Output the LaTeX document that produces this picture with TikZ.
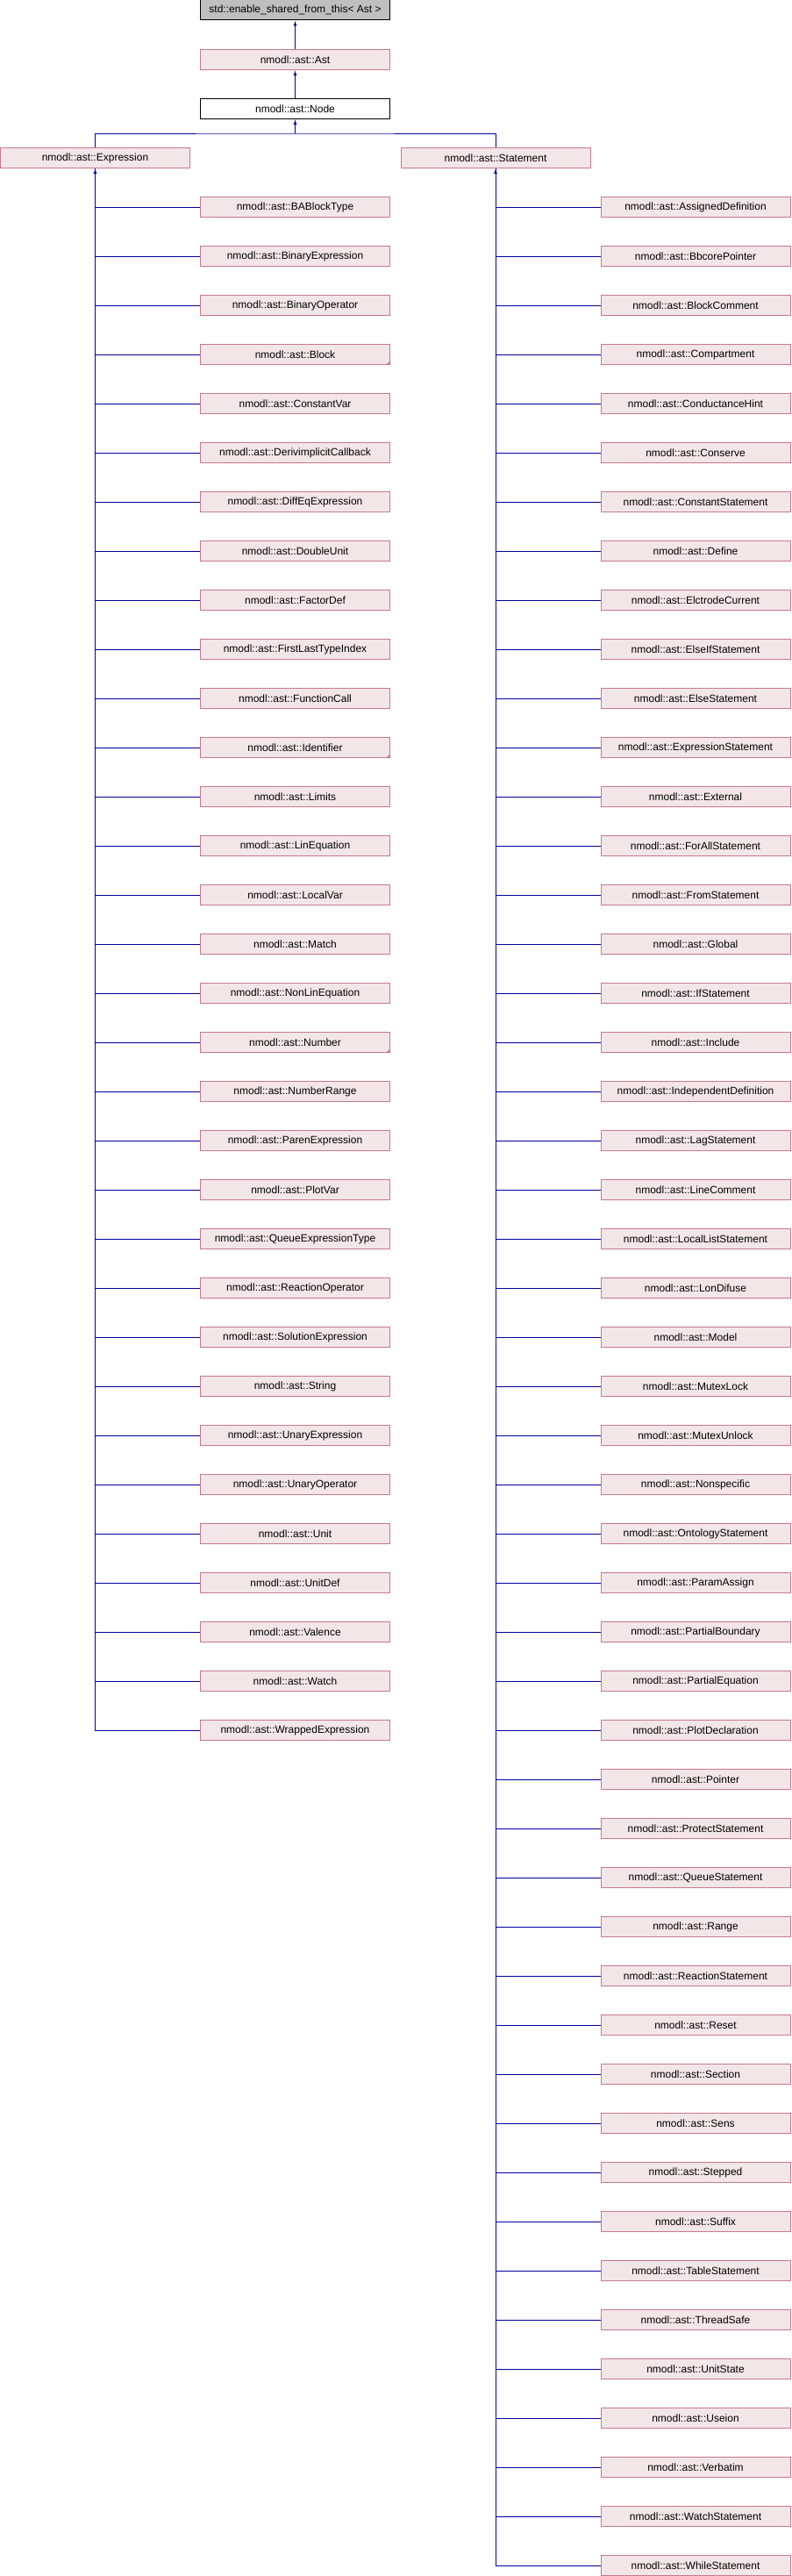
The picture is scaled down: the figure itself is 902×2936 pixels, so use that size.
\documentclass[tikz,border=0pt]{standalone}
\usepackage{fontspec}
\setmainfont{Liberation Sans}
\usepackage{tikz}
\usetikzlibrary{arrows.meta}
\usetikzlibrary{positioning}
\definecolor{boxfill}{RGB}{243, 230, 233}
\definecolor{boxborder}{RGB}{200, 120, 140}
\definecolor{basegray}{RGB}{191, 191, 191}
\definecolor{linkblue}{RGB}{0, 0, 164}

\tikzset{
    classbox/.style={draw=boxborder, fill=boxfill, line width=1pt, inner sep=0pt,
                     minimum width=216pt, minimum height=23pt, font=\fontsize{12}{14}\selectfont},
    basebox/.style={classbox, draw=black, fill=basegray},
    plainbox/.style={classbox, draw=black, fill=white},
    link/.style={draw=linkblue, line width=1pt},
    uptip/.style={-{Latex[length=6pt,width=4pt]}},
}

\begin{document}
\begin{tikzpicture}[x=1pt, y=-1pt]
    \useasboundingbox (0,0) rectangle (902,2936);

    \node[basebox]  (Shared)     at (336.5,  11.5) {std::enable\_shared\_from\_this< Ast >};
    \node[classbox] (Ast)        at (336.5,  68.0) {nmodl::ast::Ast};
    \node[plainbox] (Node)       at (336.5, 124.0) {nmodl::ast::Node};
    \node[classbox] (Expression) at (108.5, 180.0) {nmodl::ast::Expression};
    \node[classbox] (Statement)  at (565.0, 180.0) {nmodl::ast::Statement};
    \coordinate     (split)      at (336.5, 152.0);

    \draw[link, uptip] (Ast.north)  -- (Shared.south);
    \draw[link, uptip] (Node.north) -- (Ast.south);
    \draw[link, uptip] (split)      -- (Node.south);
    \draw[link] (Expression.north) |- (split) -| (Statement.north);

    \node[classbox] (BABlockType)           at (336.5,  236) {nmodl::ast::BABlockType};
    \node[classbox] (BinaryExpression)      at (336.5,  292) {nmodl::ast::BinaryExpression};
    \node[classbox] (BinaryOperator)        at (336.5,  348) {nmodl::ast::BinaryOperator};
    \node[classbox] (Block)                 at (336.5,  404) {nmodl::ast::Block};
    \node[classbox] (ConstantVar)           at (336.5,  460) {nmodl::ast::ConstantVar};
    \node[classbox] (DerivimplicitCallback) at (336.5,  516) {nmodl::ast::DerivimplicitCallback};
    \node[classbox] (DiffEqExpression)      at (336.5,  572) {nmodl::ast::DiffEqExpression};
    \node[classbox] (DoubleUnit)            at (336.5,  628) {nmodl::ast::DoubleUnit};
    \node[classbox] (FactorDef)             at (336.5,  684) {nmodl::ast::FactorDef};
    \node[classbox] (FirstLastTypeIndex)    at (336.5,  740) {nmodl::ast::FirstLastTypeIndex};
    \node[classbox] (FunctionCall)          at (336.5,  796) {nmodl::ast::FunctionCall};
    \node[classbox] (Identifier)            at (336.5,  852) {nmodl::ast::Identifier};
    \node[classbox] (Limits)                at (336.5,  908) {nmodl::ast::Limits};
    \node[classbox] (LinEquation)           at (336.5,  964) {nmodl::ast::LinEquation};
    \node[classbox] (LocalVar)              at (336.5, 1020) {nmodl::ast::LocalVar};
    \node[classbox] (Match)                 at (336.5, 1076) {nmodl::ast::Match};
    \node[classbox] (NonLinEquation)        at (336.5, 1132) {nmodl::ast::NonLinEquation};
    \node[classbox] (Number)                at (336.5, 1188) {nmodl::ast::Number};
    \node[classbox] (NumberRange)           at (336.5, 1244) {nmodl::ast::NumberRange};
    \node[classbox] (ParenExpression)       at (336.5, 1300) {nmodl::ast::ParenExpression};
    \node[classbox] (PlotVar)               at (336.5, 1356) {nmodl::ast::PlotVar};
    \node[classbox] (QueueExpressionType)   at (336.5, 1412) {nmodl::ast::QueueExpressionType};
    \node[classbox] (ReactionOperator)      at (336.5, 1468) {nmodl::ast::ReactionOperator};
    \node[classbox] (SolutionExpression)    at (336.5, 1524) {nmodl::ast::SolutionExpression};
    \node[classbox] (String)                at (336.5, 1580) {nmodl::ast::String};
    \node[classbox] (UnaryExpression)       at (336.5, 1636) {nmodl::ast::UnaryExpression};
    \node[classbox] (UnaryOperator)         at (336.5, 1692) {nmodl::ast::UnaryOperator};
    \node[classbox] (Unit)                  at (336.5, 1748) {nmodl::ast::Unit};
    \node[classbox] (UnitDef)               at (336.5, 1804) {nmodl::ast::UnitDef};
    \node[classbox] (Valence)               at (336.5, 1860) {nmodl::ast::Valence};
    \node[classbox] (Watch)                 at (336.5, 1916) {nmodl::ast::Watch};
    \node[classbox] (WrappedExpression)     at (336.5, 1972) {nmodl::ast::WrappedExpression};

    \fill[boxborder] (Block.south east)      -- ++(-5,0) -- ++(5,-5) -- cycle;
    \fill[boxborder] (Identifier.south east) -- ++(-5,0) -- ++(5,-5) -- cycle;
    \fill[boxborder] (Number.south east)     -- ++(-5,0) -- ++(5,-5) -- cycle;

    \draw[link, uptip] (Expression.south |- WrappedExpression.west) -- (Expression.south);
    \draw[link] (Expression.south) |- (BABlockType.west)
                (Expression.south) |- (BinaryExpression.west)
                (Expression.south) |- (BinaryOperator.west)
                (Expression.south) |- (Block.west)
                (Expression.south) |- (ConstantVar.west)
                (Expression.south) |- (DerivimplicitCallback.west)
                (Expression.south) |- (DiffEqExpression.west)
                (Expression.south) |- (DoubleUnit.west)
                (Expression.south) |- (FactorDef.west)
                (Expression.south) |- (FirstLastTypeIndex.west)
                (Expression.south) |- (FunctionCall.west)
                (Expression.south) |- (Identifier.west)
                (Expression.south) |- (Limits.west)
                (Expression.south) |- (LinEquation.west)
                (Expression.south) |- (LocalVar.west)
                (Expression.south) |- (Match.west)
                (Expression.south) |- (NonLinEquation.west)
                (Expression.south) |- (Number.west)
                (Expression.south) |- (NumberRange.west)
                (Expression.south) |- (ParenExpression.west)
                (Expression.south) |- (PlotVar.west)
                (Expression.south) |- (QueueExpressionType.west)
                (Expression.south) |- (ReactionOperator.west)
                (Expression.south) |- (SolutionExpression.west)
                (Expression.south) |- (String.west)
                (Expression.south) |- (UnaryExpression.west)
                (Expression.south) |- (UnaryOperator.west)
                (Expression.south) |- (Unit.west)
                (Expression.south) |- (UnitDef.west)
                (Expression.south) |- (Valence.west)
                (Expression.south) |- (Watch.west)
                (Expression.south) |- (WrappedExpression.west);

    \node[classbox] (AssignedDefinition)    at (793.0,  236) {nmodl::ast::AssignedDefinition};
    \node[classbox] (BbcorePointer)         at (793.0,  292) {nmodl::ast::BbcorePointer};
    \node[classbox] (BlockComment)          at (793.0,  348) {nmodl::ast::BlockComment};
    \node[classbox] (Compartment)           at (793.0,  404) {nmodl::ast::Compartment};
    \node[classbox] (ConductanceHint)       at (793.0,  460) {nmodl::ast::ConductanceHint};
    \node[classbox] (Conserve)              at (793.0,  516) {nmodl::ast::Conserve};
    \node[classbox] (ConstantStatement)     at (793.0,  572) {nmodl::ast::ConstantStatement};
    \node[classbox] (Define)                at (793.0,  628) {nmodl::ast::Define};
    \node[classbox] (ElctrodeCurrent)       at (793.0,  684) {nmodl::ast::ElctrodeCurrent};
    \node[classbox] (ElseIfStatement)       at (793.0,  740) {nmodl::ast::ElseIfStatement};
    \node[classbox] (ElseStatement)         at (793.0,  796) {nmodl::ast::ElseStatement};
    \node[classbox] (ExpressionStatement)   at (793.0,  852) {nmodl::ast::ExpressionStatement};
    \node[classbox] (External)              at (793.0,  908) {nmodl::ast::External};
    \node[classbox] (ForAllStatement)       at (793.0,  964) {nmodl::ast::ForAllStatement};
    \node[classbox] (FromStatement)         at (793.0, 1020) {nmodl::ast::FromStatement};
    \node[classbox] (Global)                at (793.0, 1076) {nmodl::ast::Global};
    \node[classbox] (IfStatement)           at (793.0, 1132) {nmodl::ast::IfStatement};
    \node[classbox] (Include)               at (793.0, 1188) {nmodl::ast::Include};
    \node[classbox] (IndependentDefinition) at (793.0, 1244) {nmodl::ast::IndependentDefinition};
    \node[classbox] (LagStatement)          at (793.0, 1300) {nmodl::ast::LagStatement};
    \node[classbox] (LineComment)           at (793.0, 1356) {nmodl::ast::LineComment};
    \node[classbox] (LocalListStatement)    at (793.0, 1412) {nmodl::ast::LocalListStatement};
    \node[classbox] (LonDifuse)             at (793.0, 1468) {nmodl::ast::LonDifuse};
    \node[classbox] (Model)                 at (793.0, 1524) {nmodl::ast::Model};
    \node[classbox] (MutexLock)             at (793.0, 1580) {nmodl::ast::MutexLock};
    \node[classbox] (MutexUnlock)           at (793.0, 1636) {nmodl::ast::MutexUnlock};
    \node[classbox] (Nonspecific)           at (793.0, 1692) {nmodl::ast::Nonspecific};
    \node[classbox] (OntologyStatement)     at (793.0, 1748) {nmodl::ast::OntologyStatement};
    \node[classbox] (ParamAssign)           at (793.0, 1804) {nmodl::ast::ParamAssign};
    \node[classbox] (PartialBoundary)       at (793.0, 1860) {nmodl::ast::PartialBoundary};
    \node[classbox] (PartialEquation)       at (793.0, 1916) {nmodl::ast::PartialEquation};
    \node[classbox] (PlotDeclaration)       at (793.0, 1972) {nmodl::ast::PlotDeclaration};
    \node[classbox] (Pointer)               at (793.0, 2028) {nmodl::ast::Pointer};
    \node[classbox] (ProtectStatement)      at (793.0, 2084) {nmodl::ast::ProtectStatement};
    \node[classbox] (QueueStatement)        at (793.0, 2140) {nmodl::ast::QueueStatement};
    \node[classbox] (Range)                 at (793.0, 2196) {nmodl::ast::Range};
    \node[classbox] (ReactionStatement)     at (793.0, 2252) {nmodl::ast::ReactionStatement};
    \node[classbox] (Reset)                 at (793.0, 2308) {nmodl::ast::Reset};
    \node[classbox] (Section)               at (793.0, 2364) {nmodl::ast::Section};
    \node[classbox] (Sens)                  at (793.0, 2420) {nmodl::ast::Sens};
    \node[classbox] (Stepped)               at (793.0, 2476) {nmodl::ast::Stepped};
    \node[classbox] (Suffix)                at (793.0, 2532) {nmodl::ast::Suffix};
    \node[classbox] (TableStatement)        at (793.0, 2588) {nmodl::ast::TableStatement};
    \node[classbox] (ThreadSafe)            at (793.0, 2644) {nmodl::ast::ThreadSafe};
    \node[classbox] (UnitState)             at (793.0, 2700) {nmodl::ast::UnitState};
    \node[classbox] (Useion)                at (793.0, 2756) {nmodl::ast::Useion};
    \node[classbox] (Verbatim)              at (793.0, 2812) {nmodl::ast::Verbatim};
    \node[classbox] (WatchStatement)        at (793.0, 2868) {nmodl::ast::WatchStatement};
    \node[classbox] (WhileStatement)        at (793.0, 2924) {nmodl::ast::WhileStatement};

    \draw[link, uptip] (Statement.south |- WhileStatement.west) -- (Statement.south);
    \draw[link] (Statement.south) |- (AssignedDefinition.west)
                (Statement.south) |- (BbcorePointer.west)
                (Statement.south) |- (BlockComment.west)
                (Statement.south) |- (Compartment.west)
                (Statement.south) |- (ConductanceHint.west)
                (Statement.south) |- (Conserve.west)
                (Statement.south) |- (ConstantStatement.west)
                (Statement.south) |- (Define.west)
                (Statement.south) |- (ElctrodeCurrent.west)
                (Statement.south) |- (ElseIfStatement.west)
                (Statement.south) |- (ElseStatement.west)
                (Statement.south) |- (ExpressionStatement.west)
                (Statement.south) |- (External.west)
                (Statement.south) |- (ForAllStatement.west)
                (Statement.south) |- (FromStatement.west)
                (Statement.south) |- (Global.west)
                (Statement.south) |- (IfStatement.west)
                (Statement.south) |- (Include.west)
                (Statement.south) |- (IndependentDefinition.west)
                (Statement.south) |- (LagStatement.west)
                (Statement.south) |- (LineComment.west)
                (Statement.south) |- (LocalListStatement.west)
                (Statement.south) |- (LonDifuse.west)
                (Statement.south) |- (Model.west)
                (Statement.south) |- (MutexLock.west)
                (Statement.south) |- (MutexUnlock.west)
                (Statement.south) |- (Nonspecific.west)
                (Statement.south) |- (OntologyStatement.west)
                (Statement.south) |- (ParamAssign.west)
                (Statement.south) |- (PartialBoundary.west)
                (Statement.south) |- (PartialEquation.west)
                (Statement.south) |- (PlotDeclaration.west)
                (Statement.south) |- (Pointer.west)
                (Statement.south) |- (ProtectStatement.west)
                (Statement.south) |- (QueueStatement.west)
                (Statement.south) |- (Range.west)
                (Statement.south) |- (ReactionStatement.west)
                (Statement.south) |- (Reset.west)
                (Statement.south) |- (Section.west)
                (Statement.south) |- (Sens.west)
                (Statement.south) |- (Stepped.west)
                (Statement.south) |- (Suffix.west)
                (Statement.south) |- (TableStatement.west)
                (Statement.south) |- (ThreadSafe.west)
                (Statement.south) |- (UnitState.west)
                (Statement.south) |- (Useion.west)
                (Statement.south) |- (Verbatim.west)
                (Statement.south) |- (WatchStatement.west)
                (Statement.south) |- (WhileStatement.west);
\end{tikzpicture}
\end{document}
